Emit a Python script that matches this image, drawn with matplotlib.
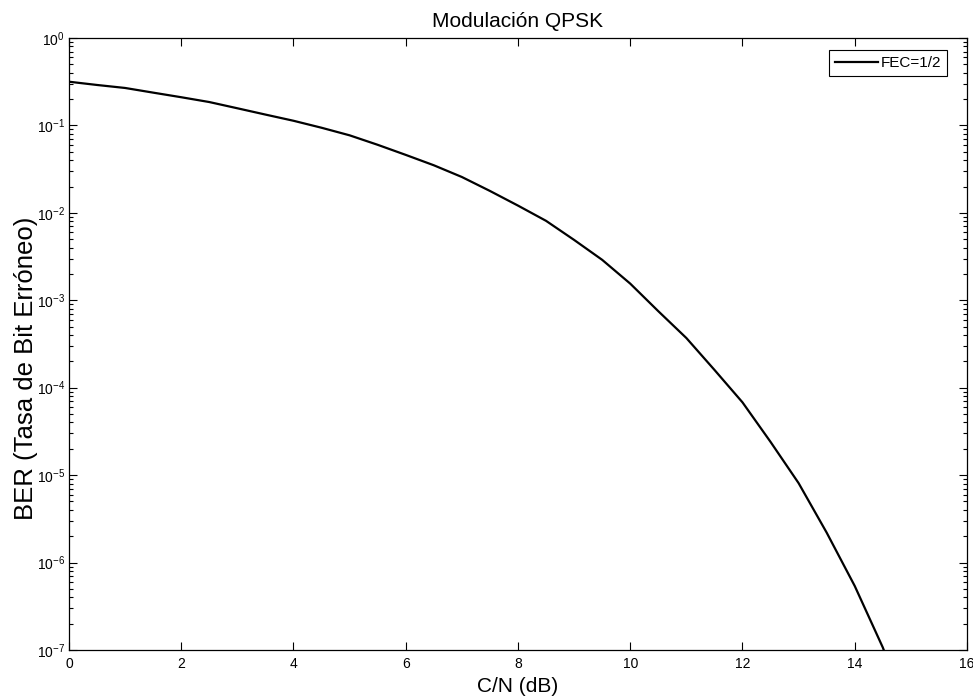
import matplotlib
matplotlib.use('Agg')
import matplotlib.pyplot as plt
from matplotlib.ticker import MultipleLocator, LogLocator, NullFormatter

plt.rcParams['font.family'] = ['Liberation Sans', 'DejaVu Sans']
plt.rcParams['mathtext.default'] = 'regular'
plt.rcParams['axes.unicode_minus'] = False

# datos (C/N en dB, BER)
cn_db = [0.0, 0.5, 1.0, 1.5, 2.0, 2.5, 3.0, 3.5, 4.0, 4.5, 5.0, 5.5, 6.0, 6.5,
         7.0, 7.5, 8.0, 8.5, 9.0, 9.5, 10.0, 10.5, 11.0, 11.5, 12.0, 12.5,
         13.0, 13.5, 14.0, 14.5, 15.0]
ber = [0.316, 0.29, 0.268, 0.237, 0.21, 0.185, 0.157, 0.133, 0.113, 0.094,
       0.077, 0.060, 0.046, 0.035, 0.0257, 0.0178, 0.0121, 0.0081, 0.0049,
       0.0029, 0.00155, 0.00075, 0.00037, 0.00016, 6.8e-5, 2.4e-5, 8.1e-6,
       2.2e-6, 5.4e-7, 1.07e-7, 1.5e-8]

fig = plt.figure(figsize=(9.73, 6.98), dpi=100)
ax = fig.add_axes([0.0709, 0.0688, 0.9229, 0.8768])

ax.semilogy(cn_db, ber, color='black', linewidth=1.6, label='FEC=1/2')

ax.set_xlim(0, 16)
ax.set_ylim(1e-7, 1)
ax.xaxis.set_major_locator(MultipleLocator(2))
ax.yaxis.set_major_locator(LogLocator(base=10, numticks=10))
ax.yaxis.set_minor_locator(LogLocator(base=10, subs=range(2, 10), numticks=20))
ax.yaxis.set_minor_formatter(NullFormatter())

ax.tick_params(which='both', direction='in', top=True, right=True, labelsize=10, width=0.8)
ax.tick_params(which='major', length=6)
ax.tick_params(which='minor', length=3)
ax.tick_params(axis='x', pad=5)
ax.tick_params(axis='y', pad=3)
for s in ax.spines.values():
    s.set_linewidth(0.9)

ax.set_title('Modulación QPSK', fontsize=15, pad=8)
ax.set_xlabel('C/N (dB)', fontsize=15)
ax.set_ylabel('BER (Tasa de Bit Erróneo)', fontsize=18.5)
ax.xaxis.set_label_coords(0.5, -0.044)
ax.yaxis.set_label_coords(-0.034, 0.46)

leg = ax.legend(loc='upper right', bbox_to_anchor=(0.9777, 0.980), borderaxespad=0,
                fancybox=False, edgecolor='black', framealpha=1,
                fontsize=11, handlelength=2.8, handletextpad=0.15, borderpad=0.4)
leg.get_frame().set_linewidth(0.8)

fig.savefig('out.png', dpi=100)
